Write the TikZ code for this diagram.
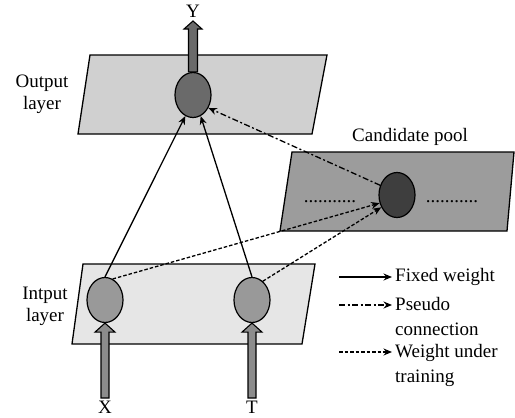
\documentclass[tikz,border=0pt]{standalone}
\usepackage{fontspec}
\setmainfont{Liberation Serif}
\usetikzlibrary{shapes.geometric,arrows.meta,calc}

\definecolor{outlayer}{HTML}{D0D0D0}
\definecolor{inlayer}{HTML}{E6E6E6}
\definecolor{poolfill}{HTML}{9C9C9C}
\definecolor{innode}{HTML}{999999}
\definecolor{outnode}{HTML}{6A6A6A}
\definecolor{candnode}{HTML}{3E3E3E}
\definecolor{fatin}{HTML}{8C8C8C}

\tikzset{
  layerbox/.style={draw=black, line width=1.3pt, line join=miter},
  neuron/.style={ellipse, draw=black, line width=1.2pt, minimum width=36pt, minimum height=45pt, inner sep=0pt},
  lbl/.style={font=\fontsize{19}{22}\selectfont, inner sep=0pt},
  leglbl/.style={font=\fontsize{19}{25}\selectfont, inner sep=0pt, align=left},
  tip/.style={-{Stealth[length=8.5pt,width=7pt]}},
  fixedw/.style={tip, line width=1.3pt},
  pseudow/.style={tip, line width=1.3pt, dash pattern=on 6pt off 2.5pt on 2pt off 2.5pt},
  trainw/.style={tip, line width=1.3pt, dash pattern=on 3.5pt off 2pt},
  fatarrow/.style={draw=black, line width=1.1pt, line join=miter}
}

\begin{document}
\begin{tikzpicture}[x=1pt, y=-1pt]
\useasboundingbox (0,0) rectangle (515,418);

% layers
\draw[layerbox, fill=outlayer] (90,55) -- (327,55) -- (312,134) -- (78,134) -- cycle;
\draw[layerbox, fill=poolfill] (292,152) -- (514,152) -- (507,231) -- (280,231) -- cycle;
\draw[layerbox, fill=inlayer] (83,264) -- (315,264) -- (302,344) -- (72,344) -- cycle;

% labels
\node[lbl, align=center] (outlbl) at (42,94) {Output\\layer};
\node[lbl, align=center] (inlbl) at (45,306) {Intput\\layer};
\node[lbl] (poollbl) at (410,137) {Candidate pool};
\node[lbl] (dotsl) at (330,202) {...........};
\node[lbl] (dotsr) at (452,202) {...........};

% neurons
\node[neuron, fill=outnode] (out) at (193,95) {};
\node[neuron, fill=candnode] (cand) at (397,195) {};
\node[neuron, fill=innode] (in1) at (105,300) {};
\node[neuron, fill=innode] (in2) at (252,300) {};

% free ends of the thick arrows
\coordinate (ytip) at (193,21);
\coordinate (xin) at (105,398);
\coordinate (tin) at (252,398);

% thick output arrow
\draw[fatarrow, fill=outnode] let \p1=(out.north), \p2=(ytip) in
  (\x1-4.5pt,\y1) -- (\x1-4.5pt,\y2-8pt) -- (\x1-9pt,\y2-8pt) -- (\x1,\y2)
  -- (\x1+9pt,\y2-8pt) -- (\x1+4.5pt,\y2-8pt) -- (\x1+4.5pt,\y1) -- cycle;
% thick input arrows
\foreach \src/\dst in {xin/in1, tin/in2}{
  \draw[fatarrow, fill=fatin] let \p1=(\src), \p2=(\dst.south) in
    (\x1-4pt,\y1) -- (\x1-4pt,\y2-9pt) -- (\x1-10pt,\y2-9pt) -- (\x2,\y2)
    -- (\x1+10pt,\y2-9pt) -- (\x1+4pt,\y2-9pt) -- (\x1+4pt,\y1) -- cycle;
}

\node[lbl] (ylbl) at (193,11) {Y};
\node[lbl] (xlbl) at (105,407) {X};
\node[lbl] (tlbl) at (252,407) {T};

% connections
\draw[fixedw] (in1.north) -- (out.250);
\draw[fixedw] (in2.north) -- (out.290);
\draw[pseudow] (cand.150) -- (out.320);
\draw[trainw] (in1.70) -- (cand.205);
\draw[trainw] (in2.60) -- (cand.218);

% legend
\coordinate (l1a) at (339,277); \coordinate (l1b) at (392,277);
\coordinate (l2a) at (339,305); \coordinate (l2b) at (392,305);
\coordinate (l3a) at (339,352); \coordinate (l3b) at (392,352);
\draw[fixedw] (l1a) -- (l1b);
\draw[pseudow] (l2a) -- (l2b);
\draw[trainw] (l3a) -- (l3b);
\node[leglbl, anchor=west] (leg1) at (395,277) {Fixed weight};
\node[leglbl, anchor=north west] (leg2) at (395,297) {Pseudo\\connection};
\node[leglbl, anchor=north west] (leg3) at (395,344) {Weight under\\training};
\end{tikzpicture}
\end{document}
